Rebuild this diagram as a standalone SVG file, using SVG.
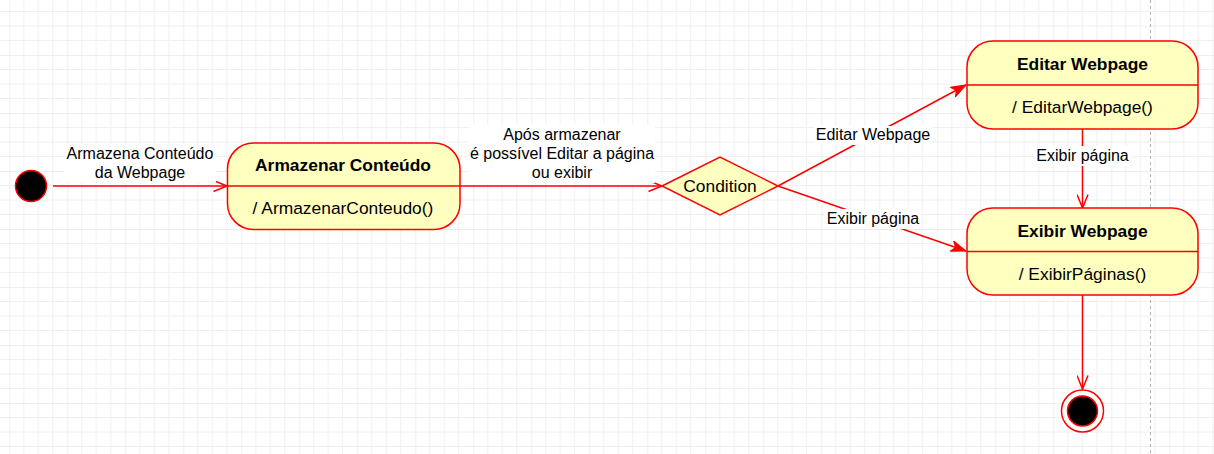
<svg xmlns="http://www.w3.org/2000/svg" width="1214" height="454" viewBox="0 0 1214 454">
<style>
.bg{fill:url(#grid)}
.node{fill:#ffffc0;stroke:#ff0000;stroke-width:1.5}
.div{stroke:#ff0000;stroke-width:1.5;fill:none}
.edge{stroke:#ff0000;stroke-width:1.5;fill:none}
.t{font-family:"Liberation Sans",Arial,sans-serif;font-size:17.4px;fill:#000;text-anchor:middle}
.b{font-weight:bold}
.lbl{font-family:"Liberation Sans",Arial,sans-serif;font-size:16px;fill:#000;text-anchor:middle}
.lblbg{fill:#ffffff}
</style>
<defs>
<pattern id="grid" x="9.3" y="-3" width="58" height="58" patternUnits="userSpaceOnUse">
<path d="M14.5 0V58M29 0V58M43.5 0V58M0 14.5H58M0 29H58M0 43.5H58" stroke="#f0f0f0" stroke-width="1" fill="none"/>
<path d="M0 0V58M0 0H58" stroke="#e0e0e0" stroke-width="1" fill="none"/>
</pattern>
<marker id="open" viewBox="0 0 16 12" refX="14.5" refY="6" markerWidth="16" markerHeight="12" markerUnits="userSpaceOnUse" orient="auto">
<path d="M1,0.5 L14.5,6 L1,11.5" fill="none" stroke="#ff0000" stroke-width="1.5"/>
</marker>
<marker id="block" viewBox="0 0 16 12" refX="15" refY="6" markerWidth="16" markerHeight="12" markerUnits="userSpaceOnUse" orient="auto">
<path d="M0,0.5 L15,6 L0,11.5 L4,6 Z" fill="#ff0000" stroke="#ff0000" stroke-width="1"/>
</marker>
</defs>
<rect x="0" y="0" width="1214" height="454" fill="#ffffff"/>
<rect class="bg" x="0" y="0" width="1214" height="454"/>
<line x1="1150.5" y1="0" x2="1150.5" y2="454" stroke="#b0b0b0" stroke-width="1" stroke-dasharray="3,3"/>

<g id="connectors">
<line class="edge" x1="53" y1="186" x2="227" y2="186" marker-end="url(#open)"/>
<line class="edge" x1="460" y1="186" x2="662" y2="186" marker-end="url(#open)"/>
<line class="edge" x1="778" y1="186" x2="966" y2="85" marker-end="url(#block)"/>
<line class="edge" x1="778" y1="186" x2="966" y2="251" marker-end="url(#block)"/>
<line class="edge" x1="1082.5" y1="129" x2="1082.5" y2="208" marker-end="url(#open)"/>
<line class="edge" x1="1082.5" y1="295" x2="1082.5" y2="389" marker-end="url(#open)"/>
<rect class="lblbg" x="64" y="144" width="152" height="38"/>
<text class="lbl" x="140" y="159">Armazena Conteúdo</text>
<text class="lbl" x="140" y="178">da Webpage</text>
<rect class="lblbg" x="469" y="125" width="186" height="58"/>
<text class="lbl" x="562" y="140">Após armazenar</text>
<text class="lbl" x="562" y="159">é possível Editar a página</text>
<text class="lbl" x="562" y="178">ou exibir</text>
<rect class="lblbg" x="814" y="126" width="118" height="19"/>
<text class="lbl" x="873" y="140">Editar Webpage</text>
<rect class="lblbg" x="825" y="209" width="96" height="20"/>
<text class="lbl" x="873" y="224">Exibir página</text>
<rect class="lblbg" x="1034" y="146" width="97" height="20"/>
<text class="lbl" x="1082.5" y="161">Exibir página</text>
</g>

<g id="start">
<circle cx="31" cy="186" r="15.5" fill="#000000" stroke="#ff0000" stroke-width="1.5"/>
</g>

<g id="armazenar">
<rect class="node" x="227.5" y="143" width="232.5" height="86.5" rx="26" ry="26"/>
<line class="div" x1="227.5" y1="186" x2="460" y2="186"/>
<text class="t b" x="343" y="171">Armazenar Conteúdo</text>
<text class="t" x="343" y="214">/ ArmazenarConteudo()</text>
</g>

<g id="condition">
<polygon class="node" points="662,186 720,157 778,186 720,215"/>
<text class="t" x="720" y="192">Condition</text>
</g>

<g id="editar">
<rect class="node" x="967" y="41" width="231" height="88" rx="26" ry="26"/>
<line class="div" x1="967" y1="85" x2="1198" y2="85"/>
<text class="t b" x="1082.5" y="70">Editar Webpage</text>
<text class="t" x="1082.5" y="113">/ EditarWebpage()</text>
</g>

<g id="exibir">
<rect class="node" x="967" y="208" width="231" height="87" rx="26" ry="26"/>
<line class="div" x1="967" y1="251.5" x2="1198" y2="251.5"/>
<text class="t b" x="1082.5" y="237">Exibir Webpage</text>
<text class="t" x="1082.5" y="280">/ ExibirPáginas()</text>
</g>

<g id="end">
<circle cx="1082.5" cy="411" r="21" fill="#ffffff" stroke="#ff0000" stroke-width="1.5"/>
<circle cx="1082.5" cy="411" r="15" fill="#000000" stroke="#ff0000" stroke-width="1.5"/>
</g>
</svg>
